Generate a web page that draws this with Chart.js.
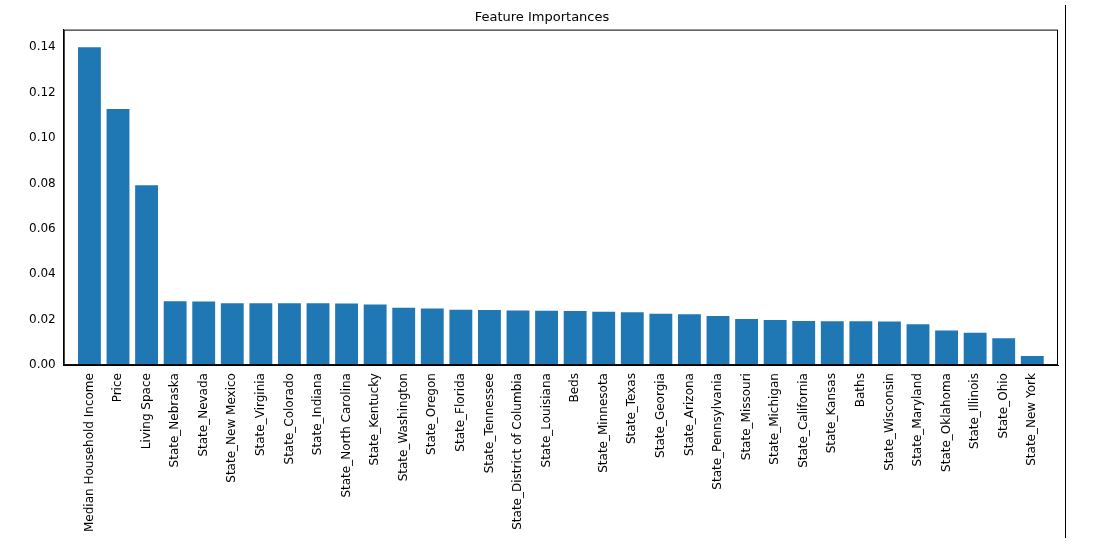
<!DOCTYPE html>
<html><head><meta charset="utf-8">
<script src="https://cdn.jsdelivr.net/npm/chart.js@4/dist/chart.umd.min.js"></script>
<style>
body{margin:0;background:#fff;}
#wrap{position:absolute;left:0;top:0;width:1060px;height:547px;}
#rule{position:absolute;left:1065px;top:5px;width:1px;height:533px;background:#000;}
</style></head><body>
<div id="wrap"><canvas id="c"></canvas></div><div id="rule"></div>
<script>
// feature names, sorted by importance
var features = ['Median Household Income','Price','Living Space','State_Nebraska','State_Nevada','State_New Mexico','State_Virginia','State_Colorado','State_Indiana','State_North Carolina','State_Kentucky','State_Washington','State_Oregon','State_Florida','State_Tennessee','State_District of Columbia','State_Louisiana','Beds','State_Minnesota','State_Texas','State_Georgia','State_Arizona','State_Pennsylvania','State_Missouri','State_Michigan','State_California','State_Kansas','Baths','State_Wisconsin','State_Maryland','State_Oklahoma','State_Illinois','State_Ohio','State_New York'];
var importances = [0.140,0.1128,0.0792,0.0281,0.0280,0.0272,0.0272,0.0272,0.0272,0.0271,0.0267,0.0253,0.0249,0.0244,0.0243,0.0240,0.0239,0.0238,0.0235,0.0233,0.0226,0.0224,0.0216,0.0203,0.0198,0.0194,0.0193,0.0193,0.0192,0.0180,0.0152,0.0142,0.0118,0.0040];
var yTicks = [0,0.02,0.04,0.06,0.08,0.10,0.12,0.14];

var points = importances.map(function (v, i) { return { x: i, y: v }; });

var ctx = document.getElementById('c').getContext('2d');
new Chart(ctx, {
  type: 'bar',
  data: {
    datasets: [{ data: points, backgroundColor: '#1f77b4', barPercentage: 0.8, categoryPercentage: 1.0 }]
  },
  options: {
    responsive: true, maintainAspectRatio: false, animation: false,
    layout: { padding: { left: 26, right: 2, top: 4, bottom: 12 } },
    plugins: {
      legend: { display: false },
      tooltip: { enabled: false },
      title: { display: true, text: 'Feature Importances', color: '#000',
        font: { family: 'DejaVu Sans', size: 13, weight: 'normal' }, padding: { top: 6, bottom: 4 } }
    },
    scales: {
      x: {
        type: 'linear', offset: false, min: -0.9, max: importances.length - 0.1,
        afterBuildTicks: function (axis) { axis.ticks = features.map(function (f, i) { return { value: i }; }); },
        grid: { display: false, drawTicks: true, tickLength: 5, tickColor: '#000' },
        border: { color: '#000' },
        ticks: { color: '#000', autoSkip: false, minRotation: 90, maxRotation: 90,
          font: { family: 'DejaVu Sans', size: 12 },
          callback: function (v) { return features[v]; } }
      },
      y: {
        min: 0, max: 0.1478,
        afterBuildTicks: function (axis) { axis.ticks = yTicks.map(function (v) { return { value: v }; }); },
        grid: { display: false, drawTicks: true, tickLength: 5, tickColor: '#000' },
        border: { color: '#000' },
        ticks: { color: '#000', font: { family: 'DejaVu Sans', size: 12 },
          callback: function (v) { return v.toFixed(2); } }
      }
    }
  },
  plugins: [{
    id: 'frame',
    afterDraw: function (chart) {
      var a = chart.chartArea, c = chart.ctx;
      c.save(); c.strokeStyle = '#000'; c.lineWidth = 1;
      c.strokeRect(a.left + 0.5, a.top + 0.5, a.right - a.left - 1, a.bottom - a.top - 1);
      c.restore();
    }
  }]
});
</script></body></html>
